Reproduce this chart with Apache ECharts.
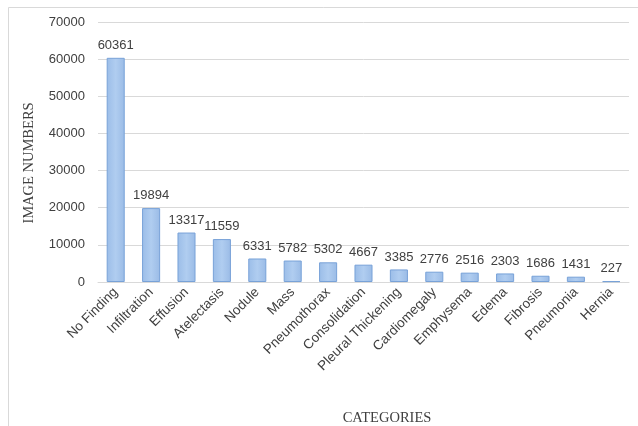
<!DOCTYPE html>
<html>
<head>
<meta charset="utf-8">
<script src="https://cdn.jsdelivr.net/npm/echarts@6/dist/echarts.min.js"></script>
<style>
  html, body { margin: 0; padding: 0; background: #ffffff; }
  #chart { width: 638px; height: 426px; }
</style>
</head>
<body>
<div id="chart"></div>
<script>
// Image counts per finding label
const categories = [
  'No Finding', 'Infiltration', 'Effusion', 'Atelectasis', 'Nodule', 'Mass',
  'Pneumothorax', 'Consolidation', 'Pleural Thickening', 'Cardiomegaly',
  'Emphysema', 'Edema', 'Fibrosis', 'Pneumonia', 'Hernia'
];
const imageCounts = [
  60361, 19894, 13317, 11559, 6331, 5782, 5302, 4667, 3385, 2776,
  2516, 2303, 1686, 1431, 227
];
const yTicks = [0, 10000, 20000, 30000, 40000, 50000, 60000, 70000];

const labelFont = 'Liberation Sans, Arial, sans-serif';
const titleFont = 'Liberation Serif, Times New Roman, serif';

const chart = echarts.init(document.getElementById('chart'), null, { renderer: 'canvas' });

chart.setOption({
  animation: false,
  backgroundColor: '#ffffff',
  graphic: [
    {
      type: 'rect',
      shape: { x: 8.5, y: 7.5, width: 640, height: 430 },
      style: { fill: 'none', stroke: '#d9d9d9', lineWidth: 1 },
      silent: true
    },
    {
      type: 'text',
      x: 29,
      y: 163,
      rotation: Math.PI / 2,
      style: {
        text: 'IMAGE NUMBERS',
        font: '14.5px ' + titleFont,
        fill: '#404040',
        textAlign: 'center',
        textVerticalAlign: 'middle'
      },
      silent: true
    },
    {
      type: 'text',
      x: 387,
      y: 418,
      style: {
        text: 'CATEGORIES',
        font: '14.5px ' + titleFont,
        fill: '#404040',
        textAlign: 'center',
        textVerticalAlign: 'middle'
      },
      silent: true
    }
  ],
  grid: { left: 98, right: 9, top: 22, bottom: 144, containLabel: false },
  xAxis: {
    type: 'category',
    data: categories,
    axisLine: { show: true, lineStyle: { color: '#d9d9d9', width: 1 } },
    axisTick: { show: false },
    axisLabel: {
      interval: 0,
      rotate: 45,
      margin: 8,
      color: '#404040',
      fontFamily: labelFont,
      fontSize: 13.5
    }
  },
  yAxis: {
    type: 'value',
    min: yTicks[0],
    max: yTicks[yTicks.length - 1],
    interval: yTicks[1] - yTicks[0],
    axisLine: { show: false },
    axisTick: { show: false },
    splitLine: { lineStyle: { color: '#d9d9d9', width: 1 } },
    axisLabel: {
      margin: 13,
      color: '#404040',
      fontFamily: labelFont,
      fontSize: 13,
      formatter: function (v) { return String(v); }
    }
  },
  series: [{
    type: 'bar',
    data: imageCounts,
    barCategoryGap: '49%',
    itemStyle: {
      color: new echarts.graphic.LinearGradient(0, 0, 1, 0, [
        { offset: 0, color: '#9bbde8' },
        { offset: 0.5, color: '#b0cdf0' },
        { offset: 1, color: '#9abbe6' }
      ]),
      borderColor: '#78a2d8',
      borderWidth: 1
    },
    label: {
      show: true,
      position: 'top',
      distance: 6,
      color: '#404040',
      fontFamily: labelFont,
      fontSize: 13
    }
  }]
});
</script>
</body>
</html>
